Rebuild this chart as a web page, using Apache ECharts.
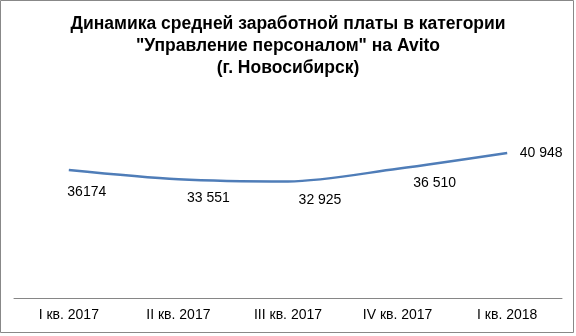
<!DOCTYPE html>
<html>
<head>
<meta charset="utf-8">
<script src="https://cdn.jsdelivr.net/npm/echarts@6/dist/echarts.min.js"></script>
<style>
  html, body { margin: 0; padding: 0; background: #fff; }
  #chart { width: 576px; height: 336px; }
</style>
</head>
<body>
<div id="chart"></div>
<script>
// данные с картинки
const quarters = ['I кв. 2017', 'II кв. 2017', 'III кв. 2017', 'IV кв. 2017', 'I кв. 2018'];
const salary = [36174, 33551, 32925, 36510, 40948];
const salaryLabels = ['36174', '33 551', '32 925', '36 510', '40 948'];

// сдвиги подписей (как в исходной картинке)
const labelOffsets = [[18, 22], [30, 19], [32, 19], [37, 14], [34, 0]];

const myChart = echarts.init(document.getElementById('chart'), null, { renderer: 'canvas' });

let option = {
    animation: false,
    title: {
        text: 'Динамика средней заработной платы в категории\n"Управление персоналом" на Avito\n(г. Новосибирск)',
        left: 'center',
        top: 8,
        textStyle: {
            fontFamily: 'Liberation Sans',
            fontSize: 17.5,
            fontWeight: 'bold',
            color: '#000',
            lineHeight: 22
        }
    },
    graphic: [{
        type: 'rect',
        shape: { x: 0.5, y: 0.5, width: 573, height: 332 },
        style: { fill: 'none', stroke: '#888', lineWidth: 1 },
        silent: true
    }],
    grid: {
        left: 14,
        right: 14,
        top: 121,
        bottom: 38
    },
    xAxis: {
        type: 'category',
        data: quarters,
        axisLine: { lineStyle: { color: '#868686', width: 1 } },
        axisTick: { show: false },
        axisLabel: {
            margin: 10,
            fontFamily: 'Liberation Sans',
            fontSize: 14,
            color: '#000'
        }
    },
    yAxis: {
        type: 'value',
        min: 0,
        max: 50000,
        show: false,
        splitLine: { show: false }
    },
    series: [{
        type: 'line',
        data: salary.map(function (v, i) {
            return {
                value: v,
                label: { offset: labelOffsets[i] }
            };
        }),
        smooth: 0.3,
        symbol: 'circle',
        symbolSize: 0,
        lineStyle: { color: '#4f7db8', width: 2.5 },
        itemStyle: { color: '#4f7db8' },
        label: {
            show: true,
            position: 'inside',
            fontFamily: 'Liberation Sans',
            fontSize: 14,
            color: '#000',
            formatter: function (p) {
                return salaryLabels[p.dataIndex];
            }
        }
    }]
};
myChart.setOption(option);
</script>
</body>
</html>
